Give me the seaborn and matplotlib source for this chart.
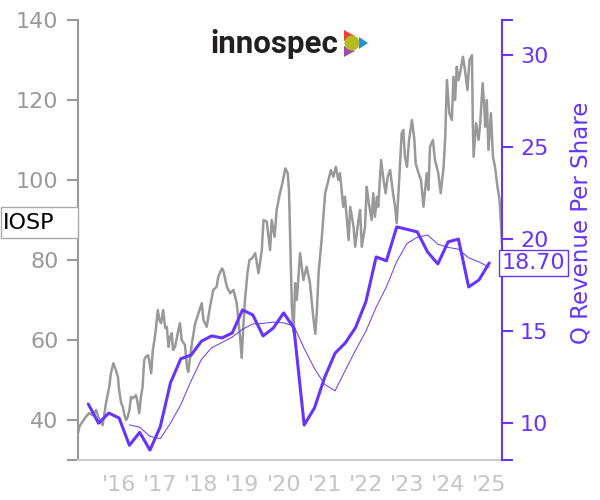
import numpy as np
import pandas as pd
import matplotlib
matplotlib.use("Agg")
import matplotlib.pyplot as plt
import matplotlib.transforms as mtransforms
from matplotlib.patches import Polygon, Circle, Rectangle
import seaborn as sns

# daily-ish close price, decimal years
price_year = [
    2015.00, 2015.03, 2015.11, 2015.19, 2015.27, 2015.36, 2015.44, 2015.52, 2015.60, 2015.68,
    2015.76, 2015.80, 2015.86, 2015.92, 2015.97, 2016.00, 2016.05, 2016.09, 2016.13, 2016.17,
    2016.21, 2016.25, 2016.29, 2016.33, 2016.41, 2016.45, 2016.49, 2016.53, 2016.57, 2016.61,
    2016.65, 2016.70, 2016.73, 2016.78, 2016.82, 2016.86, 2016.90, 2016.94, 2016.98, 2017.02,
    2017.07, 2017.12, 2017.16, 2017.20, 2017.24, 2017.28, 2017.31, 2017.36, 2017.44, 2017.48,
    2017.52, 2017.60, 2017.65, 2017.68, 2017.77, 2017.85, 2017.93, 2018.01, 2018.05, 2018.13,
    2018.21, 2018.29, 2018.37, 2018.41, 2018.50, 2018.53, 2018.62, 2018.70, 2018.78, 2018.86,
    2018.94, 2018.98, 2019.02, 2019.06, 2019.12, 2019.17, 2019.23, 2019.31, 2019.39, 2019.47,
    2019.51, 2019.59, 2019.67, 2019.71, 2019.78, 2019.83, 2019.91, 2019.97, 2020.04, 2020.10,
    2020.13, 2020.16, 2020.20, 2020.24, 2020.28, 2020.32, 2020.40, 2020.48, 2020.56, 2020.64,
    2020.72, 2020.77, 2020.81, 2020.85, 2020.93, 2021.01, 2021.09, 2021.15, 2021.21, 2021.27,
    2021.33, 2021.37, 2021.41, 2021.45, 2021.49, 2021.54, 2021.58, 2021.62, 2021.70, 2021.74,
    2021.82, 2021.86, 2021.90, 2021.98, 2022.02, 2022.06, 2022.14, 2022.18, 2022.22, 2022.27,
    2022.30, 2022.37, 2022.43, 2022.48, 2022.53, 2022.59, 2022.65, 2022.71, 2022.75, 2022.81,
    2022.87, 2022.91, 2022.95, 2023.00, 2023.05, 2023.12, 2023.18, 2023.21, 2023.28, 2023.34,
    2023.40, 2023.48, 2023.52, 2023.56, 2023.63, 2023.68, 2023.76, 2023.82, 2023.89, 2023.93,
    2023.97, 2024.03, 2024.09, 2024.13, 2024.17, 2024.21, 2024.25, 2024.29, 2024.36, 2024.41,
    2024.47, 2024.52, 2024.58, 2024.60, 2024.62, 2024.68, 2024.74, 2024.78, 2024.84, 2024.88,
    2024.90, 2024.94, 2024.98, 2025.04, 2025.09, 2025.14, 2025.20, 2025.25, 2025.29, 2025.31,
]
price = [
    36.7, 38.3, 39.6, 40.8, 41.7, 41.2, 42.5, 40.0, 38.7, 44.2,
    48.3, 51.7, 54.2, 52.5, 50.8, 47.5, 44.2, 43.3, 41.2, 40.0,
    40.8, 42.5, 45.8, 45.4, 46.2, 44.2, 41.7, 45.8, 48.3, 55.0,
    55.8, 56.2, 55.0, 51.7, 57.5, 60.0, 63.3, 67.5, 65.0, 64.2,
    67.5, 63.0, 63.3, 58.3, 60.8, 61.7, 57.5, 58.3, 62.5, 64.2,
    60.0, 58.8, 53.3, 52.0, 59.2, 64.2, 66.7, 69.2, 65.0, 63.3,
    68.3, 72.5, 73.3, 75.8, 77.9, 77.5, 73.3, 71.7, 72.5, 69.2,
    60.8, 55.5, 63.3, 70.0, 76.7, 80.0, 80.4, 81.7, 76.7, 82.5,
    90.0, 89.6, 82.5, 90.0, 85.8, 92.5, 96.7, 99.2, 102.9, 101.7,
    97.5, 85.0, 68.3, 62.0, 74.2, 70.0, 81.7, 75.0, 78.3, 74.2,
    65.8, 61.5, 67.5, 76.7, 85.8, 96.7, 100.0, 102.5, 100.8, 103.3,
    100.0, 101.7, 97.5, 93.3, 95.8, 90.0, 85.0, 93.3, 88.3, 83.3,
    90.0, 92.5, 83.3, 88.3, 98.3, 95.0, 90.0, 96.7, 90.8, 95.8,
    93.3, 105.0, 100.0, 96.7, 100.8, 102.5, 97.5, 93.3, 89.2, 100.0,
    111.7, 112.5, 105.8, 103.3, 110.0, 115.0, 110.0, 104.2, 101.7, 100.0,
    93.3, 101.7, 97.5, 108.3, 110.0, 105.0, 101.7, 96.7, 103.3, 110.8,
    125.0, 116.7, 115.0, 125.8, 120.0, 128.3, 125.0, 126.7, 130.8, 127.5,
    122.5, 130.0, 131.2, 114.2, 105.8, 114.2, 110.0, 114.2, 124.2, 118.3,
    113.3, 120.0, 107.5, 116.7, 105.8, 103.3, 98.3, 95.0, 88.3, 83.7,
]

# quarterly revenue per share, 2015Q1 .. 2024Q4
quarters = pd.period_range("2015Q1", "2024Q4", freq="Q")
q_rev = [
    11.04, 10.00, 10.55, 10.28, 8.80, 9.50, 8.54, 9.80, 12.20, 13.50,
    13.70, 14.45, 14.74, 14.63, 14.90, 16.15, 15.88, 14.74, 15.17, 15.99,
    15.17, 9.90, 10.83, 12.50, 13.80, 14.36, 15.20, 16.60, 19.03, 18.82,
    20.66, 20.53, 20.39, 19.30, 18.65, 19.85, 20.00, 17.40, 17.78, 18.70,
]
# trailing 4-quarter average (thin line), starts at 2016Q1
q_avg = [
    None, None, None, None, 9.91, 9.78, 9.28, 9.16, 10.01, 11.01,
    12.30, 13.46, 14.10, 14.38, 14.68, 15.10, 15.39, 15.42, 15.49, 15.45,
    15.27, 14.06, 12.97, 12.10, 11.76, 12.87, 13.97, 14.99, 16.30, 17.41,
    18.78, 19.76, 20.10, 20.22, 19.72, 19.55, 19.45, 18.98, 18.76, 18.47,
]

year_ticks = list(range(2016, 2026))
year_labels = ["'16", "'17", "'18", "'19", "'20", "'21", "'22", "'23", "'24", "'25"]
price_ticks = [40, 60, 80, 100, 120, 140]
rev_ticks = [10, 15, 20, 25, 30]

PURPLE = "#6633ff"
GRAY = "#999999"
LIGHT = "#cccccc"

sns.set_style("white")
plt.rcParams["font.family"] = ["DejaVu Sans"]

fig = plt.figure(figsize=(6, 5), dpi=100)
ax = fig.add_axes([78 / 600, 40 / 500, 424 / 600, 440 / 500])
ax2 = ax.twinx()

qdf = pd.DataFrame({
    "t": [p.year + p.quarter / 4 for p in quarters],
    "rev": q_rev,
    "avg": pd.array(q_avg, dtype="Float64").astype(float),
})
pdf = pd.DataFrame({"t": price_year, "price": price})

sns.lineplot(data=pdf, x="t", y="price", ax=ax, color=GRAY, lw=1.8, estimator=None)
sns.lineplot(data=qdf.dropna(), x="t", y="avg", ax=ax2, color=PURPLE, lw=0.7, estimator=None)
sns.lineplot(data=qdf, x="t", y="rev", ax=ax2, color=PURPLE, lw=2.2, estimator=None)

x0, x1 = 2015.0, 2025.31
y0, y1 = 30, 140
r0, r1 = 8.0, 31.9
ax.set_xlim(x0, x1)
ax.set_ylim(y0, y1)
ax2.set_ylim(r0, r1)

# ticks at the axis limits are drawn without labels
ax.set_xticks([x0] + year_ticks + [x1])
ax.set_xticklabels([""] + year_labels + [""])
ax.set_yticks([y0] + price_ticks)
ax.set_yticklabels([""] + [str(v) for v in price_ticks])
ax2.set_yticks([r0] + rev_ticks + [r1])
ax2.set_yticklabels([""] + [str(v) for v in rev_ticks] + [""])

ax.set_xlabel("")
ax.set_ylabel("")
ax2.set_xlabel("")
ax2.set_ylabel("Q Revenue Per Share", color=PURPLE, fontsize=16.5)
ax2.yaxis.set_label_coords(1.16, 0.54)

for s in ["top", "right"]:
    ax.spines[s].set_visible(False)
ax.spines["left"].set_color(GRAY)
ax.spines["left"].set_linewidth(1.5)
ax.spines["bottom"].set_color(LIGHT)
ax.spines["bottom"].set_linewidth(1.5)
for s in ["top", "left", "bottom"]:
    ax2.spines[s].set_visible(False)
ax2.spines["right"].set_color(PURPLE)
ax2.spines["right"].set_linewidth(1.5)

ax.tick_params(axis="y", colors=GRAY, labelsize=16, length=8, width=1.5, pad=6)
ax.tick_params(axis="x", colors=LIGHT, labelcolor="#c4c4c4", labelsize=16, length=8, width=1.5, pad=3)
ax2.tick_params(axis="y", colors=PURPLE, labelsize=16, length=8, width=1.5, pad=5)

# last value tag on the right axis
ax2.text(1.0, q_rev[-1], f"{q_rev[-1]:.2f}",
         transform=mtransforms.blended_transform_factory(ax2.transAxes, ax2.transData),
         ha="left", va="center", color=PURPLE, fontsize=16,
         bbox=dict(boxstyle="square,pad=0.12", fc="white", ec=PURPLE, lw=1))

# overlay in pixel units for ticker tag and logo
ov = fig.add_axes([0, 0, 1, 1])
ov.set_xlim(0, 600)
ov.set_ylim(500, 0)
ov.set_facecolor("none")
ov.axis("off")

ov.add_patch(Rectangle((0.5, 207), 77, 31, fc="white", ec="#aaaaaa", lw=1))
ov.text(3, 223, "IOSP", ha="left", va="center", fontsize=16, color="black")

ov.text(210, 53, "innospec", ha="left", va="baseline", fontsize=22.5,
        fontweight="bold", family=["Roboto", "DejaVu Sans"], color="#231f20")
ov.add_patch(Polygon([(344, 30), (344, 41), (355, 36)], closed=True, fc="#e8413c", ec="none"))
ov.add_patch(Polygon([(359, 37), (368, 43), (359, 49)], closed=True, fc="#1f8fd8", ec="none"))
ov.add_patch(Polygon([(344, 46), (344, 57), (355, 51)], closed=True, fc="#9a4da6", ec="none"))
ov.add_patch(Circle((352, 43), 7.5, fc="#b3bb1e", ec="none"))

fig.savefig("out.png", dpi=100)
